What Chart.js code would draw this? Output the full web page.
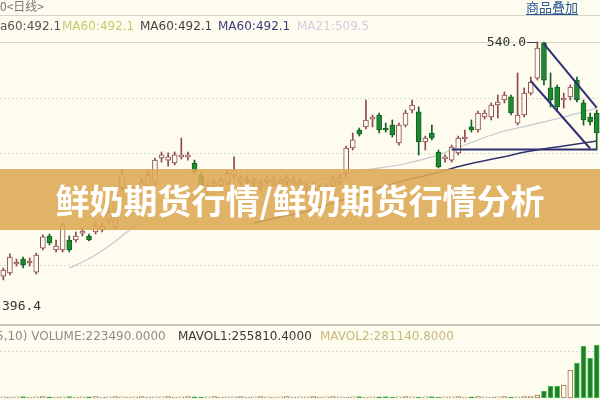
<!DOCTYPE html>
<html>
<head>
<meta charset="utf-8">
<script src="https://cdn.jsdelivr.net/npm/chart.js@4.4.0/dist/chart.umd.min.js"></script>
<style>
html, body { margin: 0; padding: 0; background: #fdfcef; }
#wrap { width: 600px; height: 400px; position: relative; }
</style>
</head>
<body>
<div id="wrap"><canvas id="chart" width="600" height="400"></canvas></div>
<script>
// daily candles (price units)
let openP = [412.1, 413.8, 418.7, 421.4, 419.3, 414.3, 427.4, 434.0, 426.4, 426.4,
    431.8, 431.8, 435.6, 434.0, 436.2, 437.3, 442.7, 438.9, 460.2, 458.0,
    458.6, 457.5, 461.3, 463.0, 476.6, 475.5, 473.9, 477.2, 477.2, 473.9,
    467.3, 459.1, 461.3, 461.9, 463.0, 467.3, 463.0, 463.5, 462.4, 461.3,
    463.5, 463.0, 462.4, 463.5, 463.0, 461.3, 460.2, 459.1, 458.0, 459.1,
    461.3, 463.5, 468.4, 482.1, 491.9, 493.6, 497.9, 500.1, 493.0, 494.6,
    484.8, 494.6, 502.8, 501.8, 485.4, 490.3, 479.9, 476.1, 475.5, 479.4,
    487.0, 493.6, 491.9, 499.0, 499.0, 505.6, 508.3, 510.0, 495.7, 500.1,
    512.1, 520.3, 539.5, 514.9, 515.4, 508.3, 510.0, 519.2, 506.7, 499.0, 501.2];
let closeP = [415.4, 422.5, 419.8, 418.2, 420.3, 423.6, 433.5, 430.2, 428.5, 440.0,
    426.4, 434.0, 436.7, 431.8, 440.0, 439.5, 447.1, 458.0, 467.9, 460.2,
    459.7, 463.5, 467.3, 475.5, 478.3, 477.2, 478.3, 478.3, 478.3, 469.0,
    461.3, 461.3, 463.0, 464.6, 468.4, 470.1, 465.7, 465.1, 464.1, 463.0,
    465.1, 464.6, 464.6, 465.7, 464.6, 463.5, 461.9, 461.3, 460.2, 460.8,
    464.6, 465.7, 482.1, 486.5, 489.7, 497.4, 499.0, 491.9, 491.9, 489.2,
    494.6, 501.2, 505.6, 485.4, 487.5, 487.5, 471.7, 477.2, 482.6, 487.5,
    488.1, 491.9, 501.2, 501.2, 505.6, 507.2, 511.0, 501.2, 500.1, 512.1,
    518.1, 536.7, 519.2, 508.3, 504.5, 509.4, 515.4, 508.3, 497.4, 496.3, 490.3];
let highP = [416.5, 424.2, 421.4, 422.5, 422.0, 424.7, 434.6, 435.1, 431.8, 441.1,
    434.0, 436.2, 438.4, 435.1, 441.7, 441.1, 449.3, 460.2, 470.1, 461.9,
    461.3, 465.7, 470.1, 476.6, 479.9, 479.4, 479.9, 487.5, 479.9, 475.5,
    469.0, 463.0, 464.6, 466.2, 470.1, 477.2, 467.3, 466.8, 465.7, 464.6,
    467.3, 466.8, 466.2, 467.3, 466.8, 465.7, 463.5, 463.0, 461.9, 462.4,
    466.8, 467.9, 483.2, 490.3, 493.0, 508.3, 500.1, 501.2, 495.7, 497.4,
    495.7, 502.8, 508.3, 504.5, 488.6, 494.6, 481.0, 478.3, 483.7, 488.6,
    491.9, 497.4, 502.3, 502.8, 506.7, 511.0, 512.7, 511.0, 523.1, 514.9,
    520.9, 540.0, 540.0, 523.1, 516.5, 512.1, 516.5, 520.9, 508.3, 501.2, 502.8];
let lowP = [410.0, 412.7, 417.6, 416.5, 417.6, 413.2, 426.4, 429.1, 425.3, 425.3,
    425.3, 430.7, 434.0, 431.3, 435.1, 436.2, 441.1, 437.8, 459.1, 456.4,
    456.9, 456.4, 460.2, 461.3, 474.4, 472.2, 472.8, 476.1, 475.5, 467.9,
    460.2, 456.4, 459.1, 460.2, 461.9, 465.7, 461.3, 461.9, 460.8, 459.1,
    461.9, 461.3, 460.2, 461.9, 461.3, 460.2, 458.0, 457.5, 455.9, 456.9,
    459.1, 461.9, 466.2, 481.0, 488.6, 492.5, 493.6, 490.3, 490.8, 488.1,
    483.7, 493.6, 501.2, 478.3, 481.0, 486.5, 471.2, 474.4, 474.4, 478.3,
    485.4, 490.8, 490.8, 497.9, 497.4, 498.5, 506.7, 500.1, 494.6, 499.0,
    511.0, 519.2, 516.5, 504.5, 502.8, 503.9, 508.3, 507.2, 494.6, 494.6, 481.0];
let volumes = [5000, 4000, 5000, 6000, 4000, 5000, 6000, 5000, 4000, 5000,
    6000, 4000, 5000, 5000, 6000, 4000, 5000, 6000, 5000, 4000,
    5000, 6000, 4000, 5000, 5000, 6000, 4000, 5000, 6000, 5000,
    4000, 5000, 6000, 4000, 5000, 5000, 6000, 4000, 5000, 6000,
    5000, 4000, 5000, 6000, 4000, 5000, 5000, 6000, 4000, 5000,
    6000, 5000, 4000, 5000, 6000, 4000, 5000, 5000, 6000, 4000,
    5000, 6000, 5000, 4000, 5000, 6000, 4000, 5000, 5000, 6000,
    4000, 5000, 6000, 5000, 4000, 5000, 6000, 4000, 5000, 6000,
    6000, 12650, 29520, 50600, 50600, 54820, 118080, 147600, 219280, 168680, 223490];

// moving averages and drawn lines: candle index -> price
let maLightIdx = [10, 12, 14, 16, 18, 20, 22, 24, 27, 30, 35, 40, 45, 50, 55, 60, 65, 70, 75, 80, 85, 90];
let maLightVal = [416.5, 419.8, 423.6, 428.5, 434.0, 439.5, 443.8, 448.2, 452.6, 455.9, 459.1, 461.3,
    463.0, 466.2, 470.1, 472.8, 477.2, 483.7, 490.3, 494.6, 499.0, 503.9];
let ma60Idx = [38, 42, 45, 50, 55, 60, 65, 70, 75, 80, 85, 90];
let ma60Val = [441.1, 444.4, 446.6, 452.0, 458.0, 463.5, 467.9, 472.8, 476.6, 480.4, 483.2, 485.9];
let supportIdx = [68, 90];
let supportVal = [481.2, 481.2];
let upperIdx = [82, 90];
let upperVal = [539.0, 504.2];
let lowerIdx = [80, 89];
let lowerVal = [518.7, 481.8];

let gridValues = [418.2, 448.6, 479.2, 509.4, 540.0];
let days = openP.map((v, i) => String(i + 1));

let priceLegend = [
    { text: 'a60:492.1', x: 0, color: '#555555' },
    { text: 'MA60:492.1', x: 62, color: '#c9c86c' },
    { text: 'MA60:492.1', x: 140, color: '#444444' },
    { text: 'MA60:492.1', x: 218, color: '#3b3b7e' },
    { text: 'MA21:509.5', x: 297, color: '#d9cadf' }
];
let volumeLegend = [
    { text: '5,10) VOLUME:223490.0000', x: -4, color: '#8c8c8c' },
    { text: 'MAVOL1:255810.4000', x: 178, color: '#383838' },
    { text: 'MAVOL2:281140.8000', x: 320, color: '#c7b97c' }
];

const BG = '#fdfcef';
const UP_LINE = '#8e4a4a';
const DOWN_FILL = '#1d8a31';
const DOWN_LINE = '#125e21';
const NAVY = '#2f2f74';

let isUp = openP.map((o, i) => closeP[i] >= o);
let pts = (idx, val) => idx.map((k, j) => ({ x: days[k], y: val[j] }));

const decor = {
    id: 'decor',
    beforeDraw(chart) {
        let ctx = chart.ctx;
        let y = chart.scales.y;
        ctx.save();
        ctx.fillStyle = BG;
        ctx.fillRect(0, 0, 600, 400);
        // dotted grid lines of the price panel
        ctx.strokeStyle = '#d9d9cf';
        ctx.lineWidth = 1;
        ctx.setLineDash([2, 2]);
        gridValues.forEach(v => {
            let py = Math.round(y.getPixelForValue(v)) + 0.5;
            ctx.beginPath(); ctx.moveTo(0, py); ctx.lineTo(600, py); ctx.stroke();
        });
        ctx.beginPath(); ctx.moveTo(0, 351.5); ctx.lineTo(600, 351.5); ctx.stroke();
        ctx.setLineDash([]);
        // panel borders
        ctx.strokeStyle = '#d4d4ca';
        ctx.beginPath(); ctx.moveTo(0, 15.5); ctx.lineTo(600, 15.5); ctx.stroke();
        ctx.beginPath(); ctx.moveTo(0, 42.5); ctx.lineTo(600, 42.5); ctx.stroke();
        ctx.strokeStyle = '#c9c9c0';
        ctx.lineWidth = 2;
        ctx.beginPath(); ctx.moveTo(0, 325); ctx.lineTo(600, 325); ctx.stroke();
        ctx.restore();
    },
    afterDraw(chart) {
        let ctx = chart.ctx;
        let y = chart.scales.y;
        ctx.save();
        ctx.textBaseline = 'middle';
        // header
        ctx.font = '12px "Noto Sans CJK SC"';
        ctx.fillStyle = '#777777';
        ctx.fillText('0<日线>', 0, 6);
        ctx.fillStyle = '#2c5896';
        ctx.font = '13px "Noto Sans CJK SC"';
        ctx.fillText('商品叠加', 526, 7);
        let w = ctx.measureText('商品叠加').width;
        ctx.fillRect(526, 14, w, 1);
        // legends
        ctx.font = '12px "DejaVu Sans"';
        priceLegend.forEach(t => { ctx.fillStyle = t.color; ctx.fillText(t.text, t.x, 27); });
        volumeLegend.forEach(t => { ctx.fillStyle = t.color; ctx.fillText(t.text, t.x, 337); });
        // high / low markers
        ctx.font = '13px "DejaVu Sans Mono"';
        ctx.fillStyle = '#333333';
        let hy = y.getPixelForValue(540.0);
        ctx.textAlign = 'right';
        ctx.fillText('540.0', 526, hy + 1);
        ctx.strokeStyle = '#444444';
        ctx.lineWidth = 1;
        ctx.beginPath(); ctx.moveTo(527, Math.round(hy) + 0.5); ctx.lineTo(537, Math.round(hy) + 0.5); ctx.stroke();
        ctx.textAlign = 'left';
        ctx.fillText('396.4', 2, y.getPixelForValue(396.4) + 2);
        // title banner
        ctx.fillStyle = 'rgba(221, 169, 84, 0.88)';
        ctx.fillRect(0, 169, 600, 61);
        ctx.fillStyle = '#ffffff';
        ctx.font = 'bold 34px "Noto Sans CJK SC"';
        ctx.textAlign = 'center';
        ctx.fillText('鲜奶期货行情/鲜奶期货行情分析', 300, 201);
        ctx.restore();
    }
};

let chart = new Chart(document.getElementById('chart'), {
    data: {
        labels: days,
        datasets: [
            {
                type: 'line', data: pts(upperIdx, upperVal), borderColor: NAVY, borderWidth: 2,
                pointRadius: 0, spanGaps: true, order: 0
            },
            {
                type: 'line', data: pts(lowerIdx, lowerVal), borderColor: NAVY, borderWidth: 2,
                pointRadius: 0, spanGaps: true, order: 0
            },
            {
                type: 'line', data: pts(supportIdx, supportVal), borderColor: NAVY, borderWidth: 2,
                pointRadius: 0, spanGaps: true, order: 0
            },
            {
                type: 'line', data: pts(ma60Idx, ma60Val), borderColor: '#34346e', borderWidth: 1.5,
                pointRadius: 0, spanGaps: true, tension: 0.4, order: 4
            },
            {
                type: 'line', data: pts(maLightIdx, maLightVal), borderColor: '#cbc8d2', borderWidth: 1.2,
                pointRadius: 0, spanGaps: true, tension: 0.4, order: 4
            },
            {
                type: 'bar', data: openP.map((o, i) => [o, closeP[i]]),
                backgroundColor: isUp.map(u => u ? BG : DOWN_FILL),
                borderColor: isUp.map(u => u ? UP_LINE : DOWN_LINE),
                borderWidth: 1, borderSkipped: false, barThickness: 5, grouped: false, order: 1
            },
            {
                type: 'bar', data: lowP.map((l, i) => [l, highP[i]]),
                backgroundColor: isUp.map(u => u ? UP_LINE : DOWN_LINE),
                barThickness: 1, grouped: false, order: 2
            },
            {
                type: 'bar', data: volumes, yAxisID: 'v',
                backgroundColor: isUp.map(u => u ? BG : '#1f7d2d'),
                borderColor: isUp.map(u => u ? '#a0764a' : '#52c452'),
                borderWidth: 1, borderSkipped: false, barThickness: 5, grouped: false, order: 3
            }
        ]
    },
    options: {
        responsive: false,
        animation: false,
        layout: { padding: 0 },
        plugins: { legend: { display: false }, tooltip: { enabled: false } },
        scales: {
            x: { type: 'category', display: false, offset: true },
            y: { type: 'linear', display: false, min: 344.4, max: 562.95 },
            v: { type: 'linear', display: false, min: -8434, max: 1678366 }
        }
    },
    plugins: [decor]
});
</script>
</body>
</html>
